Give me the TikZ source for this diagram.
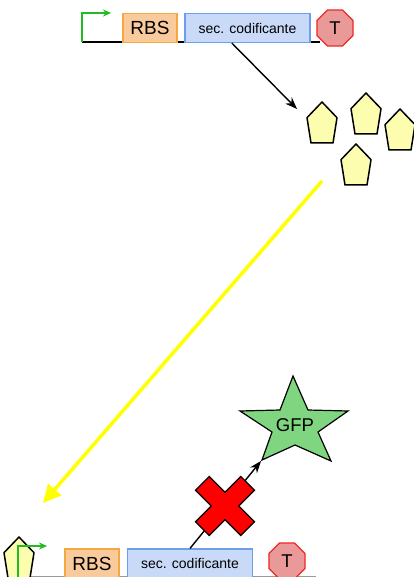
\documentclass[tikz,border=0pt]{standalone}
\usepackage{fontspec}
\setmainfont{Liberation Sans}
\usetikzlibrary{shapes.geometric,arrows.meta,calc}
\definecolor{rbsfill}{HTML}{F9CB9C}
\definecolor{rbsline}{HTML}{F6A840}
\definecolor{codfill}{HTML}{C9DAF8}
\definecolor{codline}{HTML}{6D9EEB}
\definecolor{termfill}{HTML}{EA9999}
\definecolor{termline}{HTML}{F02828}
\definecolor{pentfill}{HTML}{FDFDB0}
\definecolor{promgreen}{HTML}{22BB22}
\definecolor{gfpfill}{HTML}{80D680}
\definecolor{arrowyellow}{HTML}{FFFF00}
\definecolor{basegrey}{HTML}{9A9A9A}
\tikzset{
  rbsbox/.style={draw=rbsline, fill=rbsfill, line width=1.2pt, minimum width=54pt, minimum height=29pt, inner sep=0pt, font=\fontsize{19}{19}\selectfont},
  codbox/.style={draw=codline, fill=codfill, line width=1.2pt, minimum width=125pt, minimum height=29pt, inner sep=0pt, font=\fontsize{14}{14}\selectfont},
  termbox/.style={regular polygon, regular polygon sides=8, minimum size=39pt, draw=termline, fill=termfill, line width=1.2pt, inner sep=0pt, font=\fontsize{18.5}{19}\selectfont},
  promline/.style={draw=promgreen, line width=1.6pt, -{Stealth[length=8pt,width=7pt]}},
  blackarrow/.style={draw=black, line width=1.4pt, -{Stealth[length=12pt,width=9pt]}},
  yellowarrow/.style={draw=arrowyellow, line width=3.5pt, -{Triangle[length=18pt,width=17pt]}},
  pentstyle/.style={draw=black, fill=pentfill, line width=1.5pt, line join=round},
  pent/.pic={\path[pentstyle] (0,0) -- (15,15.7) -- (11,41) -- (-11,41) -- (-15,15.7) -- cycle;},
  xstyle/.style={draw=black, fill=red, line width=1.2pt},
  starstyle/.style={draw=black, fill=gfpfill, line width=1.2pt, line join=miter},
  lbl/.style={inner sep=0pt, font=\fontsize{18.5}{18.5}\selectfont}
}
\begin{document}
\begin{tikzpicture}[x=1pt,y=-1pt]
\useasboundingbox (0,0) rectangle (414,577);
\clip (0,0) rectangle (414,577);
\fill[white] (0,0) rectangle (414,577);

% ---- top construct ----
\coordinate (p1) at (82,42);
\coordinate (b1end) at (320,42);
\draw[black, line width=1.3pt] (p1) -- (b1end);
\node[rbsbox] (rbs1) at (150,28) {RBS};
\node[codbox] (cod1) at (247.5,28) {sec. codificante};
\node[termbox] (t1) at (335,28) {T};
\draw[promline] (p1) -- ++(0,-29) -- ++(29,0);

% ---- proteins ----
\pic at (322,102) {pent};
\pic at (366,93) {pent};
\pic at (400,109) {pent};
\pic at (356,144) {pent};
\coordinate (prot) at (297,109);
\draw[blackarrow] ($(cod1.south west)!0.376!(cod1.south east)$) -- (prot);

% ---- yellow arrow ----
\coordinate (ys) at (322,181);
\coordinate (ye) at (43,503);
\draw[yellowarrow] (ys) -- (ye);

% ---- bottom construct ----
\coordinate (b2s) at (20,576.5);
\coordinate (b2e) at (316,576.5);
\draw[basegrey, line width=1.5pt] (b2s) -- (b2e);
\pic at (19,537) {pent};
\coordinate (p2) at (18,578);
\draw[promline] (p2) -- ++(0,-32) -- ++(29,0);
\node[rbsbox] (rbs2) at (92,563.5) {RBS};
\node[codbox] (cod2) at (190,563.5) {sec. codificante};
\node[termbox] (t2) at (287,561) {T};

% ---- GFP star ----
\coordinate (gfptip) at (261,461);
\draw[starstyle] (293,376) -- (308,410) -- (348,411) -- (318,432) -- (331,461) -- (295,445) -- (262,460) -- (272,432) -- (240,411) -- (280,410) -- cycle;
\node[lbl] (gfp) at (295,425) {GFP};
\draw[blackarrow] (cod2.north) -- (gfptip);

% ---- red cross ----
\coordinate (xc) at (225,506);
\draw[xstyle, shift={(xc)}, rotate=45] (-9.7,-32) -- (9.7,-32) -- (9.7,-9.7) -- (32,-9.7) -- (32,9.7) -- (9.7,9.7) -- (9.7,32) -- (-9.7,32) -- (-9.7,9.7) -- (-32,9.7) -- (-32,-9.7) -- (-9.7,-9.7) -- cycle;
\end{tikzpicture}
\end{document}
